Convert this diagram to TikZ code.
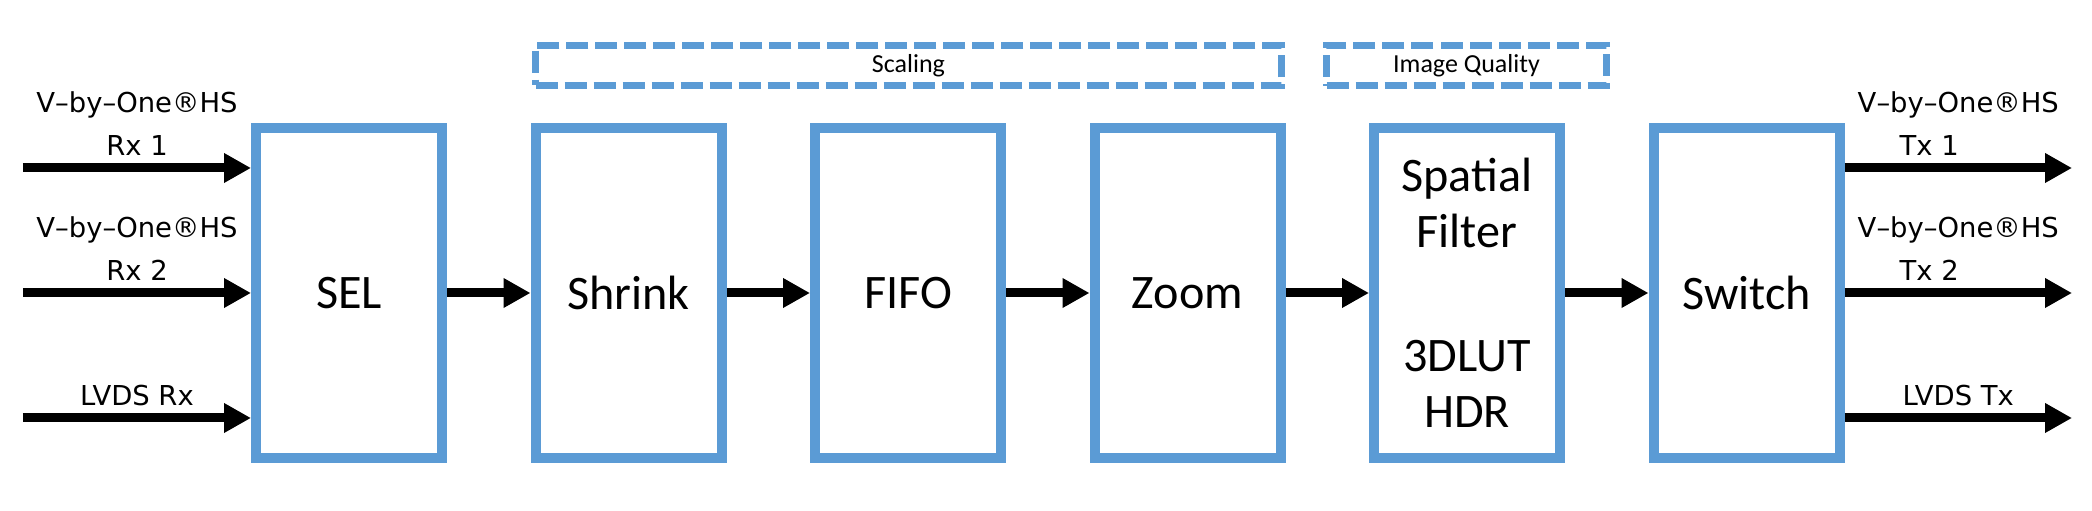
\documentclass[tikz,border=0pt]{standalone}
\usepackage{fontspec}
\setmainfont{Carlito}
\newfontfamily\sigfont{DejaVu Sans}
\usepackage{tikz}
\usetikzlibrary{positioning, arrows.meta}
\definecolor{boxblue}{HTML}{5B9BD5}

\tikzset{
  block/.style={draw=boxblue, line width=0.1cm, minimum width=1.86cm, minimum height=3.30cm,
    align=center, inner sep=0pt, font=\fontsize{13.7}{15.9}\selectfont},
  group/.style={draw=boxblue, line width=0.07cm, dash pattern=on 0.22cm off 0.07cm,
    minimum height=0.40cm, inner sep=0pt, font=\fontsize{7.4}{8.9}\selectfont},
  flow/.style={line width=0.09cm, -{Triangle[length=0.27cm, width=0.28cm]}},
  sig/.style={align=center, inner sep=2.3pt, font=\sigfont\fontsize{7.8}{12.2}\selectfont}
}

\begin{document}
\begin{tikzpicture}[node distance=0.835cm]
\useasboundingbox (0,0) rectangle (20.92,5.11);

% processing chain
\node[block] (sel) at (3.49,2.18) {SEL};
\node[block, right=of sel] (shrink) {Shrink};
\node[block, right=of shrink] (fifo) {FIFO};
\node[block, right=of fifo] (zoom) {Zoom};
\node[block, right=of zoom] (filter) {Spatial\\Filter\\[0.68cm]3DLUT\\HDR};
\node[block, right=of filter] (switch) {Switch};

\foreach \a/\b in {sel/shrink, shrink/fifo, fifo/zoom, zoom/filter, filter/switch}
  \draw[flow] (\a.east) -- (\b.west);

% groups
\node[group, minimum width=7.46cm] (scaling) at (9.085,4.455) {Scaling};
\node[group, minimum width=2.80cm] (quality) at (14.665,4.45) {Image Quality};

% inputs
\coordinate (rx1) at (0.23,3.43);
\coordinate (rx2) at (0.23,2.18);
\coordinate (lvdsrx) at (0.23,0.93);
\draw[flow] (rx1) -- (rx1 -| sel.west) node[midway, above, sig] {V–by–One®HS\\Rx 1};
\draw[flow] (rx2) -- (rx2 -| sel.west) node[midway, above, sig] {V–by–One®HS\\Rx 2};
\draw[flow] (lvdsrx) -- (lvdsrx -| sel.west) node[midway, above, sig] {LVDS Rx};

% outputs
\coordinate (tx1) at (20.72,3.43);
\coordinate (tx2) at (20.72,2.18);
\coordinate (lvdstx) at (20.72,0.93);
\draw[flow] (tx1 -| switch.east) -- (tx1) node[midway, above, sig] {V–by–One®HS\\Tx 1\hspace*{0.58cm}\mbox{}};
\draw[flow] (tx2 -| switch.east) -- (tx2) node[midway, above, sig] {V–by–One®HS\\Tx 2\hspace*{0.58cm}\mbox{}};
\draw[flow] (lvdstx -| switch.east) -- (lvdstx) node[midway, above, sig] {LVDS Tx};
\end{tikzpicture}
\end{document}
